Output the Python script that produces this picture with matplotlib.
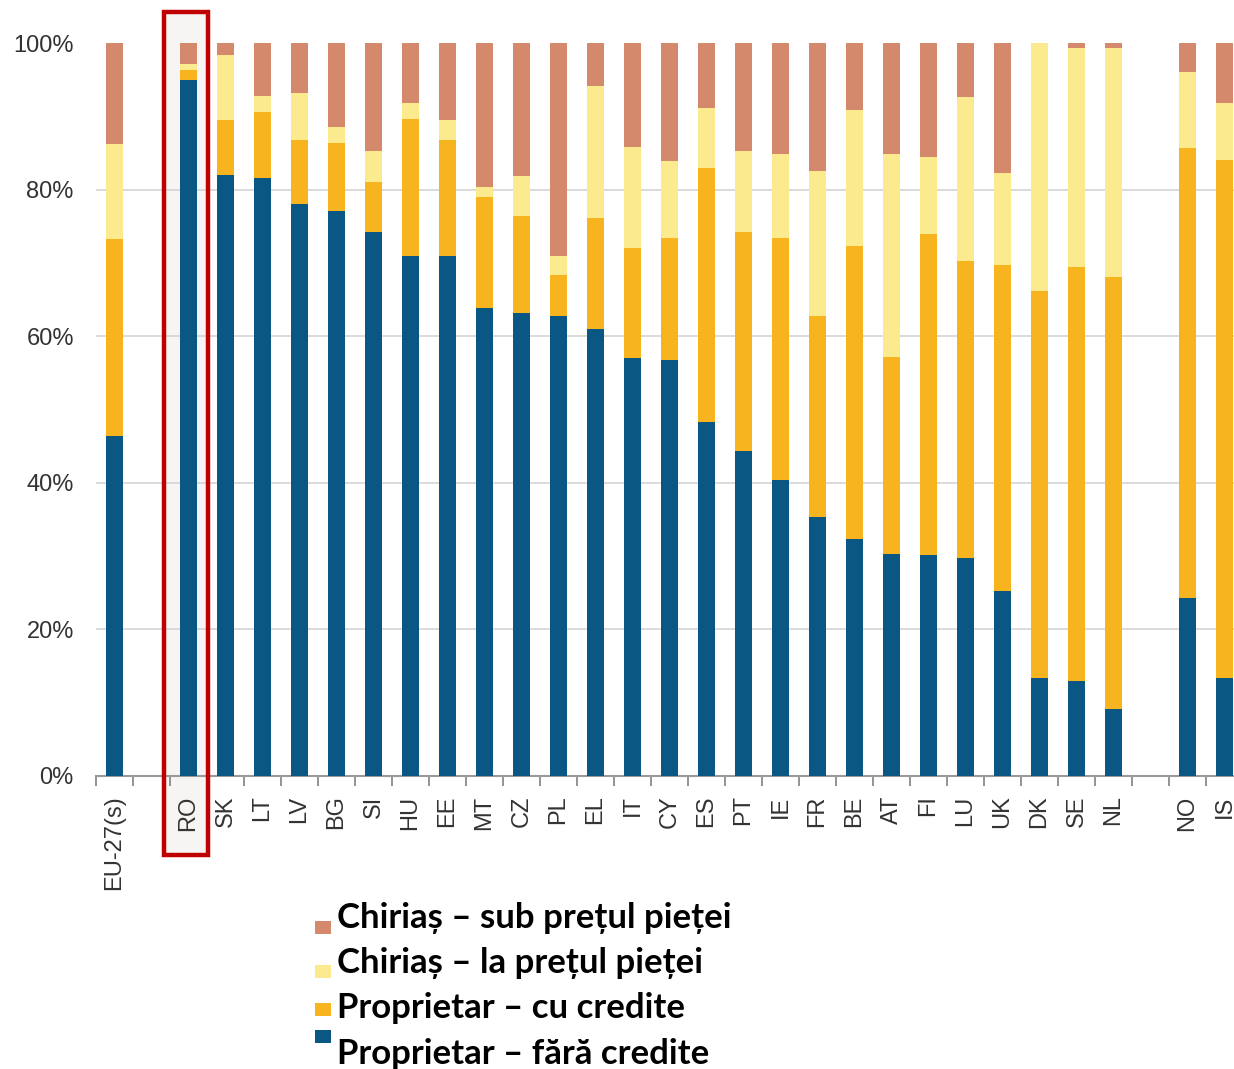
import matplotlib.pyplot as plt
from matplotlib.patches import Rectangle
from matplotlib.transforms import blended_transform_factory
import numpy as np

# structura locuirii pe statut de ocupare (% din populatie)
countries = ['EU-27(s)',
             'RO', 'SK', 'LT', 'LV', 'BG', 'SI', 'HU', 'EE', 'MT', 'CZ', 'PL', 'EL', 'IT',
             'CY', 'ES', 'PT', 'IE', 'FR', 'BE', 'AT', 'FI', 'LU', 'UK', 'DK', 'SE', 'NL',
             'NO', 'IS']
group_sizes = [1, 26, 2]  # media UE, statele membre, AELS

owner_no_loan = [46.4,
                 95.0, 82.0, 81.6, 78.0, 77.1, 74.2, 71.0, 70.9, 63.9, 63.1, 62.8, 61.0, 57.0,
                 56.7, 48.3, 44.4, 40.4, 35.4, 32.3, 30.3, 30.1, 29.8, 25.3, 13.4, 13.0, 9.2,
                 24.3, 13.4]
owner_loan = [26.8,
              1.3, 7.5, 9.0, 8.7, 9.3, 6.9, 18.6, 15.8, 15.1, 13.3, 5.5, 15.1, 15.0,
              16.7, 34.7, 29.8, 33.0, 27.4, 40.0, 26.9, 43.9, 40.5, 44.4, 52.7, 56.5, 58.9,
              61.4, 70.7]
tenant_market = [13.0,
                 0.8, 8.8, 2.2, 6.5, 2.2, 4.2, 2.2, 2.8, 1.4, 5.5, 2.6, 18.1, 13.8,
                 10.5, 8.2, 11.0, 11.5, 19.7, 18.6, 27.7, 10.4, 22.3, 12.5, 33.9, 29.8, 31.2,
                 10.3, 7.7]
tenant_reduced = [13.8,
                  2.9, 1.7, 7.2, 6.8, 11.4, 14.7, 8.2, 10.5, 19.6, 18.1, 29.1, 5.8, 14.2,
                  16.1, 8.8, 14.8, 15.1, 17.5, 9.1, 15.1, 15.6, 7.4, 17.8, 0.0, 0.7, 0.7,
                  4.0, 8.2]

series = [owner_no_loan, owner_loan, tenant_market, tenant_reduced]
labels = ['Proprietar – fără credite', 'Proprietar – cu credite',
          'Chiriaș – la prețul pieței', 'Chiriaș – sub prețul pieței']
colors = ['#0B5784', '#F8B41E', '#FCEA8E', '#D5896C']

# o coloana goala intre grupuri
pos = []
start = 0
for n in group_sizes:
    pos.extend(range(start, start + n))
    start += n + 1
pos = np.array(pos)
n_slots = start - 1

W, H = 1234, 1069
fig = plt.figure(figsize=(W / 100, H / 100), dpi=100)
ax = fig.add_axes([96 / W, (H - 776) / H, (W - 96) / W, 733 / H])

bottom = np.zeros(len(pos))
for vals, col in zip(series, colors):
    ax.bar(pos, vals, width=0.46, bottom=bottom, color=col, zorder=3)
    bottom += np.array(vals)

for s in ['top', 'right', 'left']:
    ax.spines[s].set_visible(False)
ax.spines['bottom'].set_color('#9a9a9a')
ax.spines['bottom'].set_linewidth(1.5)

for v in range(20, 100, 20):
    ax.axhline(v, color='#d4d4d4', lw=1.2, zorder=1)

ax.set_yticks(range(0, 101, 20))
ax.set_yticklabels([f'{v}%' for v in range(0, 101, 20)],
                   fontfamily='Liberation Sans', fontsize=17, color='#333333')
ax.tick_params(axis='y', length=0, pad=16)

ax.set_xticks(pos)
ax.set_xticklabels(countries, rotation=90, fontfamily='Liberation Sans',
                   fontsize=17, color='#333333')
ax.set_xticks(np.arange(-0.5, n_slots), minor=True)
ax.tick_params(axis='x', which='major', length=0, pad=14)
ax.tick_params(axis='x', which='minor', length=7, width=1.3, color='#8a8a8a')

# limitele dupa ticks, altfel set_xticks le extinde
ax.set_ylim(0, 100)
ax.set_xlim(-0.5, -0.5 + (W - 96) / 37)

# evidentiere Romania
trans = blended_transform_factory(ax.transData, ax.transAxes)
ax.add_patch(Rectangle((1.33, -0.108), 1.2, 1.15, transform=trans, clip_on=False,
                       facecolor='#f7f5f3', edgecolor='none', zorder=0))
ax.add_patch(Rectangle((1.33, -0.108), 1.2, 1.15, transform=trans, clip_on=False,
                       fill=False, edgecolor='#C00000', lw=3.2, zorder=6))

# legenda
def px(x, y):
    return x / W, 1 - y / H

square_tops = [921, 965, 1003, 1030]
baselines = [928, 973, 1018, 1064]
for i, k in enumerate([3, 2, 1, 0]):
    x0, y0 = px(315, square_tops[i] + 13)
    fig.patches.append(Rectangle((x0, y0), 16 / W, 13 / H, transform=fig.transFigure,
                                 facecolor=colors[k], edgecolor='none'))
    tx, ty = px(337, baselines[i])
    fig.text(tx, ty, labels[k], fontsize=25, fontweight='bold',
             family=['Lato', 'DejaVu Sans'], va='baseline', ha='left', color='black')

fig.savefig('out.png', dpi=100)
